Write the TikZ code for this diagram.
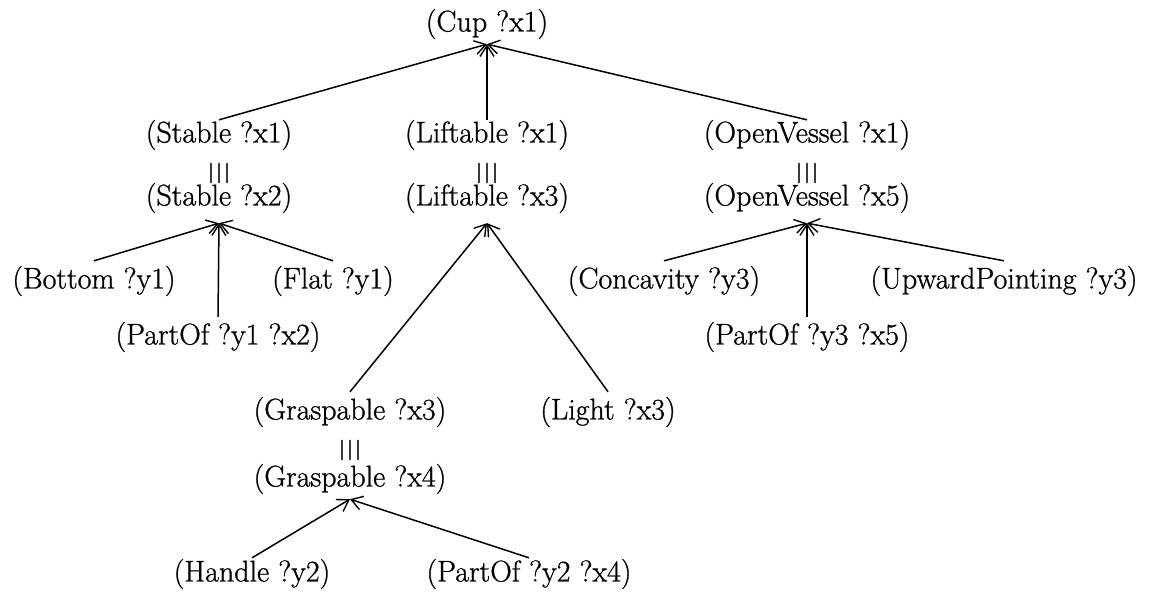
\documentclass[tikz,border=0pt]{standalone}
\usepackage{fontspec}
\setmainfont{Latin Modern Roman}[FakeBold=0.9]
\newfontfamily\barfont{Latin Modern Roman}[FakeBold=2.5]
\usetikzlibrary{arrows.meta}
\begin{document}
\begin{tikzpicture}[x=1pt,y=-1pt,
  lbl/.style={inner xsep=0pt, inner ysep=5pt, font=\fontsize{30}{36}\selectfont},
  eqv/.style={inner sep=0pt, font=\barfont\fontsize{20}{20}\selectfont},
  arr/.style={-{Straight Barb[length=11pt,width=14pt,line width=1.4pt]}, line width=1.5pt},
]
\useasboundingbox (0,0) rectangle (1154,596);
% top
\node[lbl] (cup) at (487,24) {(Cup ?x1)};
% Stable
\node[lbl] (s1) at (219,135) {(Stable ?x1)};
\node[eqv] (se) at (219,173) {|\kern2.5pt|\kern2.5pt|};
\node[lbl] (s2) at (219,198) {(Stable ?x2)};
% Liftable
\node[lbl] (l1) at (487,135) {(Liftable ?x1)};
\node[eqv] (le) at (487,173) {|\kern2.5pt|\kern2.5pt|};
\node[lbl] (l2) at (487,198) {(Liftable ?x3)};
% OpenVessel
\node[lbl] (o1) at (807,135) {(OpenVessel ?x1)};
\node[eqv] (oe) at (807,173) {|\kern2.5pt|\kern2.5pt|};
\node[lbl] (o2) at (807,198) {(OpenVessel ?x5)};
% Stable children
\node[lbl] (bot) at (94,281) {(Bottom ?y1)};
\node[lbl] (flat) at (333,281) {(Flat ?y1)};
\node[lbl] (p1) at (218,337) {(PartOf ?y1 ?x2)};
% OpenVessel children
\node[lbl] (conc) at (664,281) {(Concavity ?y3)};
\node[lbl] (up) at (1004,281) {(UpwardPointing ?y3)};
\node[lbl] (p3) at (807,337) {(PartOf ?y3 ?x5)};
% Liftable children
\node[lbl] (g3) at (350,412) {(Graspable ?x3)};
\node[lbl] (light) at (608,412) {(Light ?x3)};
\node[eqv] (ge) at (350,450) {|\kern2.5pt|\kern2.5pt|};
\node[lbl] (g4) at (350,479) {(Graspable ?x4)};
% Graspable children
\node[lbl] (hand) at (252,574) {(Handle ?y2)};
\node[lbl] (p2) at (529,574) {(PartOf ?y2 ?x4)};
% connectors
\draw[arr] ([yshift=-5pt]s1.north) -- (cup.south);
\draw[arr] ([yshift=-5pt]l1.north) -- (cup.south);
\draw[arr] ([yshift=-5pt]o1.north) -- (cup.south);
\draw[arr] (bot.north) -- ([yshift=-5pt]s2.south);
\draw[arr] (p1.north) -- ([yshift=-5pt]s2.south);
\draw[arr] (flat.north) -- ([yshift=-5pt]s2.south);
\draw[arr] (conc.north) -- ([yshift=-5pt]o2.south);
\draw[arr] (p3.north) -- ([yshift=-5pt]o2.south);
\draw[arr] (up.north) -- ([yshift=-5pt]o2.south);
\draw[arr] (g3.north) -- ([yshift=-5pt]l2.south);
\draw[arr] (light.north) -- ([yshift=-5pt]l2.south);
\draw[arr] ([yshift=-4pt]hand.north) -- (g4.south);
\draw[arr] ([yshift=-4pt]p2.north) -- (g4.south);
\end{tikzpicture}
\end{document}
